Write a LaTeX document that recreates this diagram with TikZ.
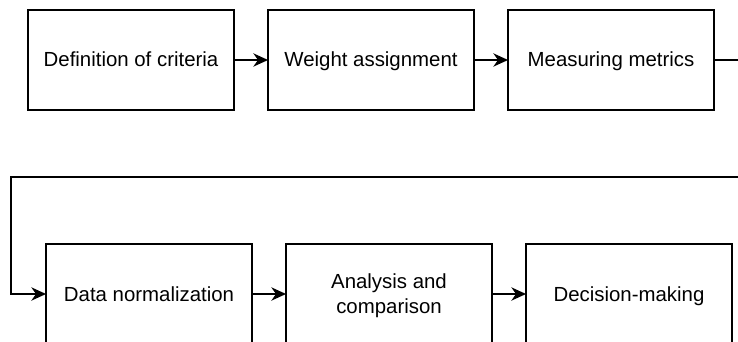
\documentclass[tikz,border=0pt]{standalone}
\usepackage{fontspec}
\setmainfont{Liberation Sans}
\usetikzlibrary{arrows.meta, positioning}
\newcommand{\lbl}[1]{\vrule height 11pt depth 0.5pt width 0pt\smash{#1}}

\begin{document}
\begin{tikzpicture}[
      x=0.75pt, y=-0.75pt,
      node distance=25.5pt,
      stage/.style={draw, line width=1.1pt, minimum width=154.5pt, minimum height=75pt,
                    inner sep=0pt, outer sep=0pt, align=center,
                    font=\fontsize{15.3}{18.5}\selectfont},
      arr/.style={-{Stealth[length=11pt, width=10pt, inset=3.5pt]}, line width=1.1pt}]
    \useasboundingbox (0,0) rectangle (738,342);
    \clip (0,0) rectangle (738,342);
    % first row
    \node[stage] (crit) at (131,60) {\lbl{Definition of criteria}};
    \node[stage, right=of crit] (weight) {\lbl{Weight assignment}};
    \node[stage, right=of weight] (meas) {\lbl{Measuring metrics}};
    % second row
    \node[stage] (norm) at (149,294) {\lbl{Data normalization}};
    \node[stage, right=of norm] (anal) {\lbl{Analysis and}\\\lbl{comparison}};
    \node[stage, right=of anal] (dec) {\lbl{Decision-making}};
    \coordinate (wrapR) at (750,177);
    \coordinate (wrapL) at (11,177);
    \draw[arr] (crit) -- (weight);
    \draw[arr] (weight) -- (meas);
    \draw[arr] (meas.east) -| (wrapR) -- (wrapL) |- (norm.west);
    \draw[arr] (norm) -- (anal);
    \draw[arr] (anal) -- (dec);
  \end{tikzpicture}
\end{document}
